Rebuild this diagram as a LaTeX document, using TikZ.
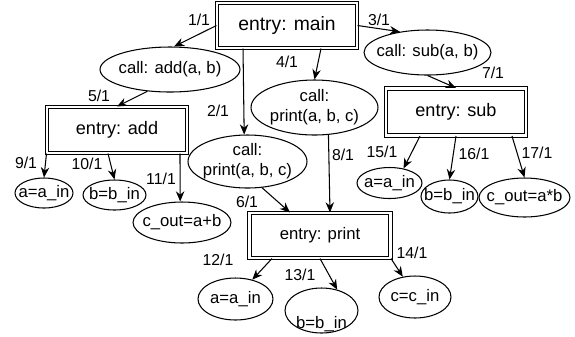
\documentclass[tikz,border=0pt]{standalone}
\usepackage{fontspec}
\setmainfont{Liberation Sans}
\usetikzlibrary{shapes.geometric,arrows.meta}
\tikzset{
 entrybox/.style={draw,rectangle,double,double distance=1.6pt,line width=0.6pt,inner sep=0pt,minimum width=2.8cm,minimum height=0.9cm},
 callnode/.style={draw,ellipse,line width=0.6pt,inner sep=-1cm,align=center,font=\fontsize{9.5}{11.3}\selectfont},
 varnode/.style={draw,ellipse,line width=0.6pt,inner sep=-1cm,font=\fontsize{9.5}{11.3}\selectfont},
 elabel/.style={inner sep=0pt,font=\fontsize{9}{10}\selectfont},
}
\begin{document}
\begin{tikzpicture}[x=0.02cm,y=-0.02cm,line width=0.6pt,>={Stealth[length=5.8pt,width=4.8pt]}]
 \useasboundingbox (0,0) rectangle (575,336); %画像の大きさ
 % エントリ
 \node[entrybox,font=\fontsize{11}{13}\selectfont] (main) at (287,25.5) {entry: main};
 \node[entrybox,minimum height=0.92cm,font=\fontsize{10.3}{12}\selectfont] (addbox) at (117,130) {entry: add};
 \node[entrybox,minimum height=0.94cm,font=\fontsize{10.3}{12}\selectfont] (subbox) at (456,112) {entry: sub};
 \node[entrybox,minimum width=2.82cm,font=\fontsize{9.5}{11}\selectfont] (printbox) at (320,235.5) {entry: print};
 % 呼び出し
 \node[callnode,minimum width=2.8cm,minimum height=0.9cm] (callad) at (170,69.5) {call: add(a, b)};
 \node[callnode,minimum width=2.54cm,minimum height=0.9cm] (callsub) at (427.5,52.5) {call: sub(a, b)};
 \node[callnode,minimum width=2.38cm,minimum height=1.06cm] (callpl) at (247.5,161.5) {call:\\print(a, b, c)};
 \node[callnode,minimum width=2.54cm,minimum height=1.1cm] (callpr) at (314.5,107.5) {call:\\print(a, b, c)};
 % 代入
 \node[varnode,minimum width=1.16cm,minimum height=0.6cm] (a1) at (44,193) {a=a\_in};
 \node[varnode,minimum width=1.26cm,minimum height=0.6cm] (b1) at (114.5,195) {b=b\_in};
 \node[varnode,minimum width=1.96cm,minimum height=0.82cm] (cab) at (182,222.5) {c\_out=a+b};
 \node[varnode,minimum width=1.5cm,minimum height=0.84cm] (a2) at (235.5,299) {a=a\_in};
 \node[varnode,minimum width=1.46cm,minimum height=0.9cm] (b2) at (321.5,310.5) {\raisebox{-0.35cm}[0pt][0pt]{b=b\_in}};
 \node[varnode,minimum width=1.44cm,minimum height=0.84cm] (c2) at (415,297) {c=c\_in};
 \node[varnode,minimum width=1.3cm,minimum height=0.62cm] (a3) at (389.5,183) {a=a\_in};
 \node[varnode,minimum width=1.14cm,minimum height=0.66cm] (b3) at (449.5,196.5) {b=b\_in};
 \node[varnode,minimum width=1.82cm,minimum height=0.78cm] (c3) at (524.5,197.5) {c\_out=a*b};
 % 辺
 \draw[->] (main.west) -- (callad.80); %1/1
 \draw[->] ([xshift=-0.88cm]main.south) -- (callpl.97); %2/1
 \draw[->] (main.east) -- (callsub.143); %3/1
 \draw[->] ([xshift=0.68cm]main.south) -- (callpr.north); %4/1
 \draw[->] (callad.224) -- (addbox.north); %5/1
 \draw[->] (callpl.299) -- ([xshift=-0.6cm]printbox.north); %6/1
 \draw[->] (callsub.south) -- (subbox.north); %7/1
 \draw[->] (callpr.297) -- ([xshift=0.2cm]printbox.north); %8/1
 \draw[->] (addbox.south west) -- (a1.north); %9/1
 \draw[->] ([xshift=-0.18cm]addbox.south) -- (b1.north); %10/1
 \draw[->] ([xshift=1.26cm]addbox.south) -- (cab.95); %11/1
 \draw[->] ([xshift=-0.96cm]printbox.south) -- (a2.49); %12/1
 \draw[->] (printbox.south) -- (b2.53); %13/1
 \draw[->] (printbox.south east) -- (c2.121); %14/1
 \draw[->] ([xshift=-0.72cm]subbox.south) -- (a3.46); %15/1
 \draw[->] (subbox.south) -- (b3.north); %16/1
 \draw[->] ([xshift=1.12cm]subbox.south) -- (c3.north); %17/1
 % ラベル
 \node[elabel] (l1) at (199,20) {1/1};
 \node[elabel] (l2) at (218,111) {2/1};
 \node[elabel] (l3) at (379,20) {3/1};
 \node[elabel] (l4) at (287,62) {4/1};
 \node[elabel] (l5) at (99,96) {5/1};
 \node[elabel] (l6) at (247,202) {6/1};
 \node[elabel] (l7) at (493,73) {7/1};
 \node[elabel] (l8) at (343,155) {8/1};
 \node[elabel] (l9) at (26,163) {9/1};
 \node[elabel] (l10) at (87,164) {10/1};
 \node[elabel] (l11) at (161,179) {11/1};
 \node[elabel] (l12) at (218,260) {12/1};
 \node[elabel] (l13) at (300,275) {13/1};
 \node[elabel] (l14) at (412,253) {14/1};
 \node[elabel] (l15) at (382,152) {15/1};
 \node[elabel] (l16) at (474,154) {16/1};
 \node[elabel] (l17) at (537,153) {17/1};
\end{tikzpicture}
\end{document}
